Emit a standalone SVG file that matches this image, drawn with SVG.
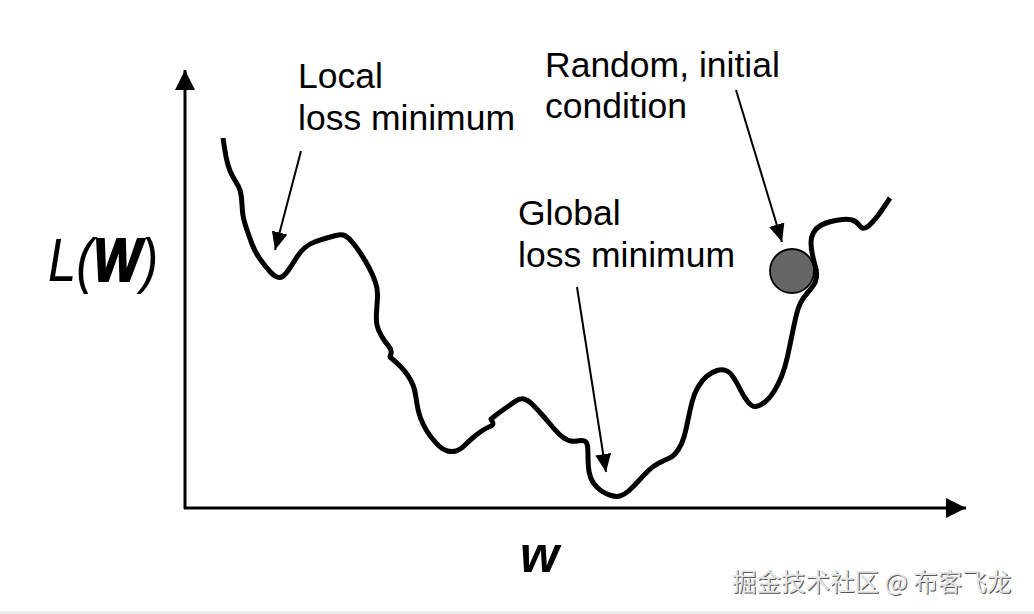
<svg xmlns="http://www.w3.org/2000/svg" width="1034" height="614" viewBox="0 0 1034 614">
<defs>
<style>
.lbl{font-family:"Liberation Sans",Arial,sans-serif;font-size:35.5px;fill:#000}
.big{font-family:"Liberation Sans",Arial,sans-serif;font-size:62px;font-style:italic;fill:#000}
.ax{stroke:#000;stroke-width:3;fill:none}
.ptr{stroke:#000;stroke-width:2;fill:none}
.curve{stroke:#000;stroke-width:5;fill:none;stroke-linejoin:round;stroke-linecap:butt}
.wm{font-family:"Noto Sans CJK SC","Noto Sans CJK JP",sans-serif;font-size:24.5px}
</style>
<marker id="axhead" markerUnits="userSpaceOnUse" markerWidth="20" markerHeight="20" viewBox="0 0 18 18" refX="18" refY="9" orient="auto">
<path d="M0,0 L18,9 L0,18 Z" fill="#000"/>
</marker>
<marker id="ptrhead" markerUnits="userSpaceOnUse" markerWidth="18" markerHeight="16" viewBox="0 0 17 15" refX="17" refY="7.5" orient="auto">
<path d="M0,0 L17,7.5 L0,15 Z" fill="#000"/>
</marker>
</defs>
<rect width="1034" height="614" fill="#fff"/>
<rect x="0" y="611" width="1034" height="3" fill="#ececec"/>

<g id="axes">
<line class="ax" x1="185" y1="509" x2="185" y2="70" marker-end="url(#axhead)"/>
<line class="ax" x1="184" y1="508" x2="966" y2="508" marker-end="url(#axhead)"/>
</g>

<g id="loss-curve">
<path class="curve" d="M223,138 L224.5,148 Q226,158 228,165 Q230,172 233,177 Q236,182 238.5,186.5 Q241,191 241.5,198 Q242,205 242.5,211.5 Q243,218 246,227 Q249,236 252,244 Q255,252 260,259 Q265,266 269.5,271 Q274,276 277,277 Q280,278 282.5,276.5 Q285,275 288.5,270 Q292,265 296,258.5 Q300,252 304.5,248 Q309,244 314.5,242 Q320,240 325,238.5 Q330,237 336,235.5 Q342,234 345.5,236 Q349,238 353,243 Q357,248 361,254 Q365,260 369,267.5 Q373,275 375.5,282.5 Q378,290 377.5,297.5 Q377,305 376.5,312.5 Q376,320 377,325 Q378,330 381.5,336 Q385,342 388.5,346 Q392,350 391,353.5 L390,357 L393.5,360 Q397,363 400.5,366.5 Q404,370 407.5,375 Q411,380 413,385 Q415,390 416,397.5 Q417,405 418.5,411.5 Q420,418 423.5,425 Q427,432 431,437 Q435,442 439,446 Q443,450 447.5,451 Q452,452 456,451 Q460,450 464,446 Q468,442 472,438.5 Q476,435 481,431.5 Q486,428 490,426.5 Q494,425 492.5,422 L491,419 L495.5,415.5 Q500,412 505,408.5 Q510,405 515,401.5 Q520,398 524,399 Q528,400 532,404 Q536,408 540.5,413 Q545,418 550,424 Q555,430 559,434 Q563,438 567.5,440 Q572,442 577,441 Q582,440 584.5,441 Q587,442 587.5,446 Q588,450 588,457.5 Q588,465 589,471.5 Q590,478 593.5,483 Q597,488 601.5,491 Q606,494 611,495.5 Q616,497 620,496 Q624,495 628.5,491 Q633,487 638,481.5 Q643,476 648,471 Q653,466 659,463 Q665,460 669.5,458 Q674,456 678,450 Q682,444 684,437 Q686,430 688,420 Q690,410 692,402 Q694,394 698,387 Q702,380 707,376 Q712,372 717,370.5 Q722,369 726,370.5 Q730,372 733.5,377.5 Q737,383 740.5,390 Q744,397 748,402 Q752,407 756,406.5 Q760,406 765,402 Q770,398 774,391.5 Q778,385 781.5,376.5 Q785,368 787.5,356.5 Q790,345 792,335 Q794,325 796,316.5 Q798,308 800.5,303 Q803,298 806.5,294 Q810,290 813,286 Q816,282 816.5,277 Q817,272 815.5,267 Q814,262 812.5,255 Q811,248 811,242.5 Q811,237 813.5,232.5 Q816,228 820.5,225.5 Q825,223 831,221.5 Q837,220 842.5,219.5 Q848,219 852,220 Q856,221 859,225 Q862,229 865,228 Q868,227 873,221.5 Q878,216 884,207 L890,198"/>
</g>

<g id="ball">
<circle cx="792" cy="271" r="22" fill="#666" stroke="#000" stroke-width="1.8"/>
</g>

<g id="connectors">
<line class="ptr" x1="301" y1="151" x2="275" y2="250" marker-end="url(#ptrhead)"/>
<line class="ptr" x1="577" y1="287" x2="606" y2="472" marker-end="url(#ptrhead)"/>
<line class="ptr" x1="736" y1="90" x2="782" y2="242" marker-end="url(#ptrhead)"/>
</g>

<g id="label-local">
<text class="lbl" x="298" y="88">Local</text>
<text class="lbl" x="298" y="130">loss minimum</text>
</g>
<g id="label-global">
<text class="lbl" x="518" y="225">Global</text>
<text class="lbl" x="518" y="267">loss minimum</text>
</g>
<g id="label-random">
<text class="lbl" x="545" y="77">Random, initial</text>
<text class="lbl" x="545" y="118">condition</text>
</g>
<g id="label-y" transform="translate(48,281) scale(0.82,1)">
<text class="big" x="0" y="0">L(<tspan font-weight="bold" stroke="#000" stroke-width="2.2">W</tspan>)</text>
</g>
<g id="label-x">
<text x="520" y="572" font-family="'Liberation Sans',Arial,sans-serif" font-size="50" font-style="italic" font-weight="bold">w</text>
</g>
<g id="watermark">
<text class="wm" x="733" y="592" fill="#555">掘金技术社区 @ 布客飞龙</text>
<text class="wm" x="732" y="591" fill="#e6e6e6">掘金技术社区 @ 布客飞龙</text>
</g>
</svg>
